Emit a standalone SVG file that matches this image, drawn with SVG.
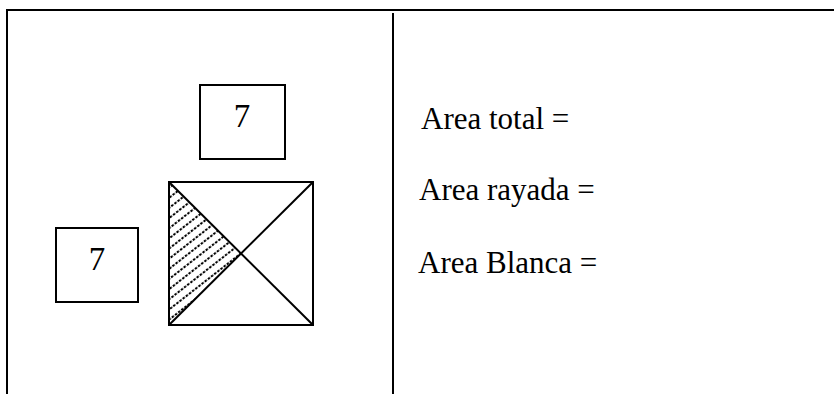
<svg xmlns="http://www.w3.org/2000/svg" width="834" height="394" viewBox="0 0 834 394">
<style>
.ln{stroke:#000;stroke-width:2;fill:none}
.bx{stroke:#000;stroke-width:2;fill:#fff}
.t{font-family:"Liberation Serif","Times New Roman",serif;font-size:31px;fill:#000}
.n{font-family:"Liberation Serif","Times New Roman",serif;font-size:33px;fill:#000;text-anchor:middle}
</style>
<defs>
<pattern id="hatch" patternUnits="userSpaceOnUse" width="8" height="8" patternTransform="rotate(-38)">
<line x1="0" y1="4" x2="8" y2="4" stroke="#000" stroke-width="2" stroke-dasharray="2.5 1.5"/>
</pattern>
</defs>
<g id="frame">
<line class="ln" x1="6" y1="10" x2="834" y2="10"/>
<line class="ln" x1="7" y1="9" x2="7" y2="394"/>
<line class="ln" x1="393" y1="13" x2="393" y2="394"/>
</g>
<g id="box-top">
<rect class="bx" x="200" y="85" width="85" height="74"/>
<text class="n" x="242" y="127">7</text>
</g>
<g id="box-left">
<rect class="bx" x="56" y="228" width="82" height="74"/>
<text class="n" x="97" y="270">7</text>
</g>
<g id="square">
<polygon points="169,182 169,325 241,253.5" fill="url(#hatch)"/>
<rect class="ln" x="169" y="182" width="144" height="143"/>
<line class="ln" x1="169" y1="182" x2="313" y2="325"/>
<line class="ln" x1="169" y1="325" x2="313" y2="182"/>
</g>
<g id="labels">
<text class="t" x="421" y="129">Area total =</text>
<text class="t" x="419" y="200">Area rayada =</text>
<text class="t" x="418" y="273">Area Blanca =</text>
</g>
</svg>
